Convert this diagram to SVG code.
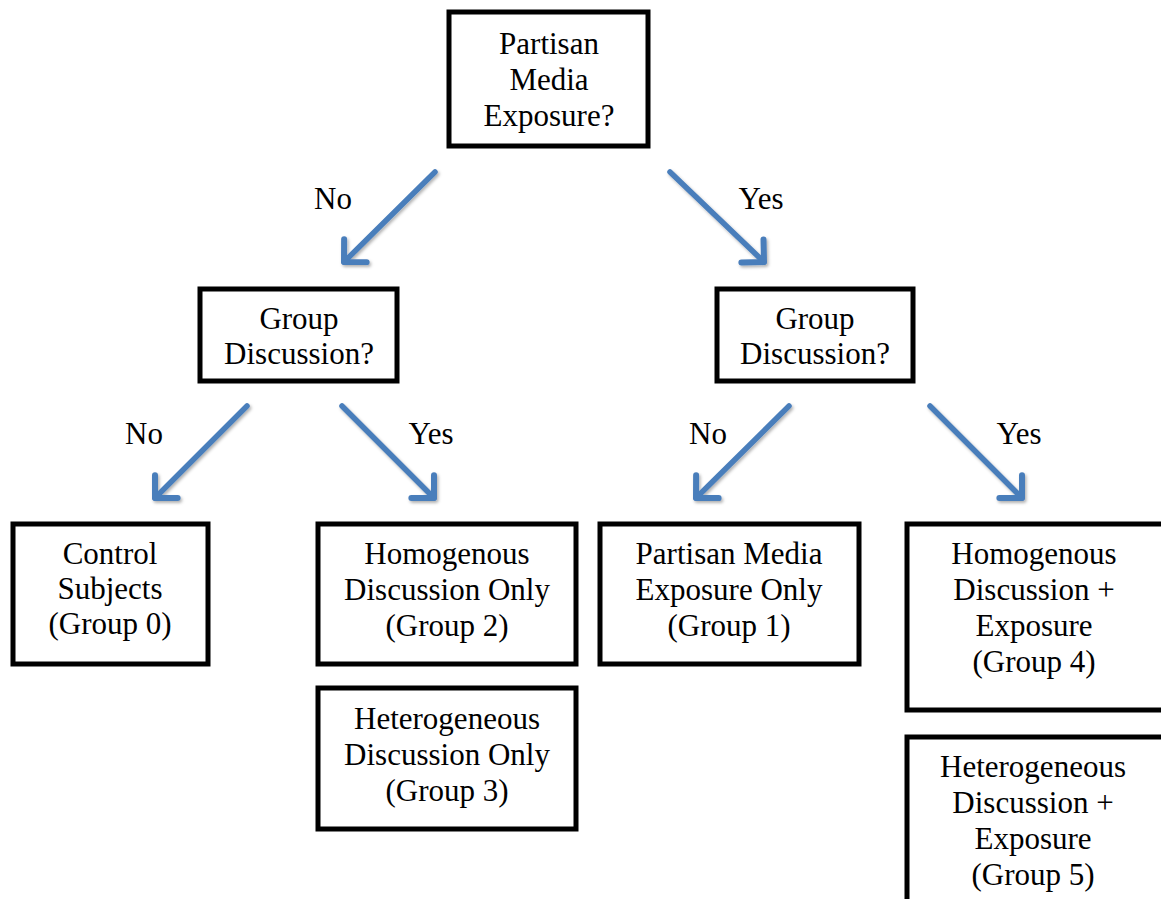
<svg xmlns="http://www.w3.org/2000/svg" width="1161" height="899" viewBox="0 0 1161 899">
<style>
.box{fill:#fff;stroke:#000;stroke-width:5}
.t{font-family:"Liberation Serif","Times New Roman",serif;font-size:31px;fill:#000;text-anchor:middle}
.arr{stroke:#4a7ebb;stroke-width:5.5;fill:none;stroke-linecap:round}
</style>
<defs>
<filter id="sh" x="-20%" y="-20%" width="140%" height="140%">
<feDropShadow dx="1.5" dy="2" stdDeviation="1.5" flood-color="#000" flood-opacity="0.3"/>
</filter>
<marker id="ah" markerUnits="userSpaceOnUse" viewBox="-26 -26 34 52" refX="0" refY="0" markerWidth="34" markerHeight="52" orient="auto">
<path d="M-16,-16 L0,0 L-16,16" fill="none" stroke="#4a7ebb" stroke-width="6" stroke-linecap="round" stroke-linejoin="round"/>
</marker>
</defs>
<rect width="1161" height="899" fill="#fff"/>
<g id="connectors" filter="url(#sh)">
<line class="arr" x1="435" y1="172" x2="344" y2="262" marker-end="url(#ah)"/>
<line class="arr" x1="670" y1="172" x2="764" y2="262" marker-end="url(#ah)"/>
<line class="arr" x1="247" y1="406" x2="155" y2="498" marker-end="url(#ah)"/>
<line class="arr" x1="342" y1="406" x2="434" y2="498" marker-end="url(#ah)"/>
<line class="arr" x1="789" y1="406" x2="696" y2="498" marker-end="url(#ah)"/>
<line class="arr" x1="930" y1="406" x2="1022" y2="498" marker-end="url(#ah)"/>
</g>
<g id="labels">
<text class="t" x="333" y="209">No</text>
<text class="t" x="761" y="209">Yes</text>
<text class="t" x="144" y="444">No</text>
<text class="t" x="431" y="444">Yes</text>
<text class="t" x="708" y="444">No</text>
<text class="t" x="1019" y="444">Yes</text>
</g>
<g id="n-root">
<rect class="box" x="449" y="12" width="199" height="134"/>
<text class="t" x="549" y="54">Partisan</text>
<text class="t" x="549" y="90">Media</text>
<text class="t" x="549" y="126">Exposure?</text>
</g>
<g id="n-gd-left">
<rect class="box" x="200" y="289" width="197" height="92"/>
<text class="t" x="299" y="329">Group</text>
<text class="t" x="299" y="364">Discussion?</text>
</g>
<g id="n-gd-right">
<rect class="box" x="717" y="289" width="196" height="92"/>
<text class="t" x="815" y="329">Group</text>
<text class="t" x="815" y="364">Discussion?</text>
</g>
<g id="n-g0">
<rect class="box" x="13" y="524" width="195" height="140"/>
<text class="t" x="110" y="564">Control</text>
<text class="t" x="110" y="599">Subjects</text>
<text class="t" x="110" y="634">(Group 0)</text>
</g>
<g id="n-g2">
<rect class="box" x="318" y="524" width="258" height="140"/>
<text class="t" x="447" y="564">Homogenous</text>
<text class="t" x="447" y="600">Discussion Only</text>
<text class="t" x="447" y="636">(Group 2)</text>
</g>
<g id="n-g3">
<rect class="box" x="318" y="688" width="258" height="141"/>
<text class="t" x="447" y="729">Heterogeneous</text>
<text class="t" x="447" y="765">Discussion Only</text>
<text class="t" x="447" y="801">(Group 3)</text>
</g>
<g id="n-g1">
<rect class="box" x="600" y="524" width="259" height="140"/>
<text class="t" x="729" y="564">Partisan Media</text>
<text class="t" x="729" y="600">Exposure Only</text>
<text class="t" x="729" y="636">(Group 1)</text>
</g>
<g id="n-g4">
<rect class="box" x="907" y="524" width="270" height="186"/>
<text class="t" x="1034" y="564">Homogenous</text>
<text class="t" x="1034" y="600">Discussion +</text>
<text class="t" x="1034" y="636">Exposure</text>
<text class="t" x="1034" y="672">(Group 4)</text>
</g>
<g id="n-g5">
<rect class="box" x="907" y="737" width="270" height="180"/>
<text class="t" x="1033" y="777">Heterogeneous</text>
<text class="t" x="1033" y="813">Discussion +</text>
<text class="t" x="1033" y="849">Exposure</text>
<text class="t" x="1033" y="885">(Group 5)</text>
</g>
</svg>
